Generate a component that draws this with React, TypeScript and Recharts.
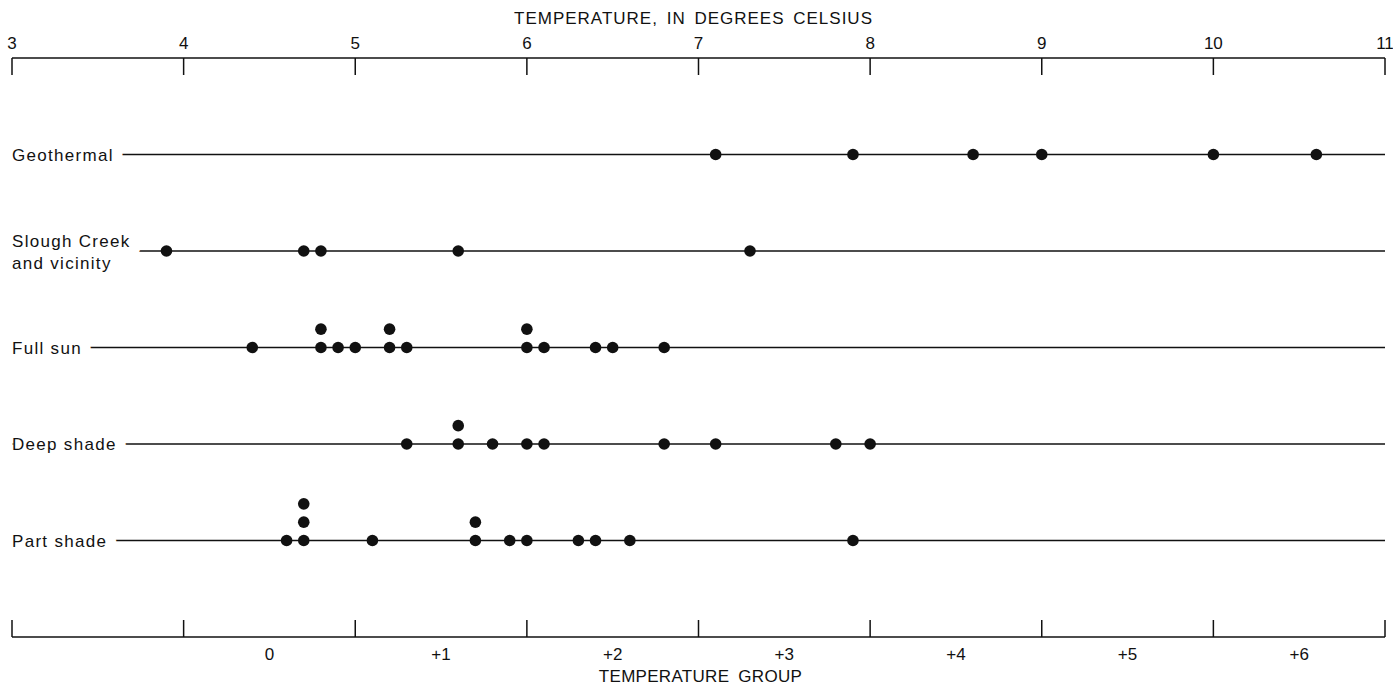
import { Label, ReferenceLine, Scatter, ScatterChart, XAxis, YAxis } from "recharts";

// temperatures, one array per site group
const geothermal = [7.1, 7.9, 8.6, 9.0, 10.0, 10.6];
const sloughCreek = [3.9, 4.7, 4.8, 5.6, 7.3];
const fullSun = [4.4, 4.8, 4.8, 4.9, 5.0, 5.2, 5.2, 5.3, 6.0, 6.0, 6.1, 6.4, 6.5, 6.8];
const deepShade = [5.3, 5.6, 5.6, 5.8, 6.0, 6.1, 6.8, 7.1, 7.8, 8.0];
const partShade = [4.6, 4.7, 4.7, 4.7, 5.1, 5.7, 5.7, 5.9, 6.0, 6.3, 6.4, 6.6, 7.9];

const rowLabels = [["Geothermal"], ["Slough Creek", "and vicinity"], ["Full sun"], ["Deep shade"], ["Part shade"]];
const rowTemps = [geothermal, sloughCreek, fullSun, deepShade, partShade];
// both x axes share the 3-11 scale; each needs series bound to it
const rowAxis = ["top", "top", "bottom", "bottom", "bottom"];

const tempTicks = [3, 4, 5, 6, 7, 8, 9, 10, 11];
const groupTicks = [4.5, 5.5, 6.5, 7.5, 8.5, 9.5, 10.5];
const groupLabels = ["0", "+1", "+2", "+3", "+4", "+5", "+6"];

const FONT = "'Liberation Sans', Arial, Helvetica, sans-serif";
const INK = "#111";
const STACK_STEP = 0.19;
const TICK_GAP = 10;
const TICK_LEN = 17;

const rowValue = (i: number) => rowTemps.length - i;

// repeated readings stack upward above the row line
const rowData = rowTemps.map((temps, i) =>
  temps.map((t, k) => {
    const level = temps.slice(0, k).filter((v) => v === t).length;
    return { t, y: rowValue(i) + level * STACK_STEP };
  })
);

const TopTick = (p: any) => {
  const axisY = p.y + TICK_GAP;
  return (
    <g>
      <line x1={p.x} x2={p.x} y1={axisY} y2={axisY + TICK_LEN} stroke={INK} strokeWidth={1.5} />
      <text x={p.x} y={axisY - 9} textAnchor="middle" fontFamily={FONT} fontSize={17} fill={INK}>
        {p.payload.value}
      </text>
    </g>
  );
};

const BottomTick = (p: any) => {
  const axisY = p.y - TICK_GAP;
  const v = p.payload.value;
  const gi = groupTicks.indexOf(v);
  return (
    <g>
      {tempTicks.includes(v) && (
        <line x1={p.x} x2={p.x} y1={axisY} y2={axisY - TICK_LEN} stroke={INK} strokeWidth={1.5} />
      )}
      {gi >= 0 && (
        <text x={p.x} y={axisY + 23} textAnchor="middle" fontFamily={FONT} fontSize={17} fill={INK}>
          {groupLabels[gi]}
        </text>
      )}
    </g>
  );
};

const rowLabel = (lines: string[]) => (props: any) => {
  const { x, y } = props.viewBox;
  return (
    <g>
      <text
        x={x}
        y={lines.length > 1 ? y - 4 : y + 6}
        fontFamily={FONT}
        fontSize={17}
        letterSpacing={1.3}
        fill={INK}
        stroke="#fff"
        strokeWidth={22}
        strokeLinejoin="round"
        paintOrder="stroke"
      >
        {lines[0]}
      </text>
      {lines[1] && (
        <text x={x} y={y + 18} fontFamily={FONT} fontSize={17} letterSpacing={1.3} fill={INK}>
          {lines[1]}
        </text>
      )}
    </g>
  );
};

const dot = (p: any) => <circle cx={p.cx} cy={p.cy} r={5.8} fill={INK} />;

export default function App() {
  return (
    <div>
      <style>{"body{margin:0;background:#fff}"}</style>
      <ScatterChart width={1393} height={687} margin={{ top: 0, right: 8, bottom: 0, left: 12 }}>
        <XAxis
          xAxisId="top"
          orientation="top"
          type="number"
          dataKey="t"
          domain={[3, 11]}
          allowDataOverflow
          ticks={tempTicks}
          interval={0}
          height={58}
          tickSize={0}
          tickMargin={TICK_GAP}
          tick={TopTick}
          stroke={INK}
          strokeWidth={1.5}
        >
          <Label
            content={(props: any) => (
              <text
                x={props.viewBox.x + props.viewBox.width / 2 - 5}
                y={props.viewBox.y + 24}
                textAnchor="middle"
                fontFamily={FONT}
                fontSize={17}
                letterSpacing={1}
                wordSpacing={3}
                fill={INK}
              >
                TEMPERATURE, IN DEGREES CELSIUS
              </text>
            )}
          />
        </XAxis>
        <XAxis
          xAxisId="bottom"
          orientation="bottom"
          type="number"
          dataKey="t"
          domain={[3, 11]}
          allowDataOverflow
          ticks={[...tempTicks, ...groupTicks].sort((a, b) => a - b)}
          interval={0}
          height={50}
          tickSize={0}
          tickMargin={TICK_GAP}
          tick={BottomTick}
          stroke={INK}
          strokeWidth={1.5}
        >
          <Label
            content={(props: any) => (
              <text
                x={props.viewBox.x + props.viewBox.width / 2 + 2}
                y={props.viewBox.y + 45}
                textAnchor="middle"
                fontFamily={FONT}
                fontSize={17}
                letterSpacing={0.3}
                wordSpacing={4}
                fill={INK}
              >
                TEMPERATURE GROUP
              </text>
            )}
          />
        </XAxis>
        <YAxis type="number" dataKey="y" domain={[0, 6]} hide />
        {rowLabels.map((lines, i) => (
          <ReferenceLine
            key={lines[0]}
            xAxisId="top"
            y={rowValue(i)}
            stroke={INK}
            strokeWidth={1.4}
            label={rowLabel(lines)}
          />
        ))}
        {rowData.map((data, i) => (
          <Scatter
            key={rowLabels[i][0]}
            xAxisId={rowAxis[i]}
            data={data}
            shape={dot}
            isAnimationActive={false}
          />
        ))}
      </ScatterChart>
    </div>
  );
}
